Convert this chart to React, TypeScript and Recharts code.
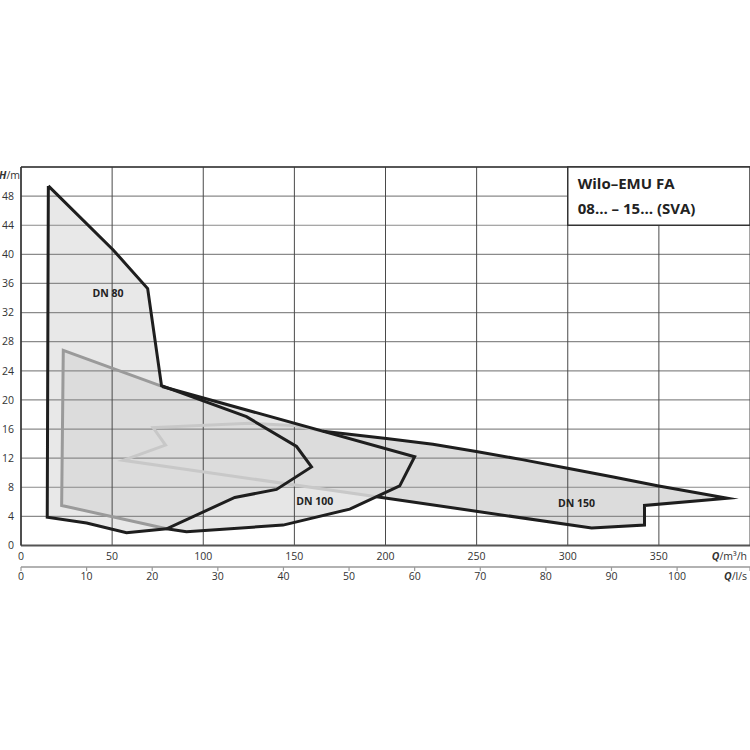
import React from 'react';
import { ComposedChart, Scatter, XAxis, YAxis, CartesianGrid, ReferenceArea, ReferenceLine } from 'recharts';

// Q in m³/h, H in m
const dn80: [number, number][] = [
  [15.0, 49.4], [50.6, 40.6], [69.5, 35.3], [77.1, 21.95], [123.7, 17.7], [151.2, 13.6], [159.4, 10.8],
  [140.2, 7.7], [117.3, 6.6], [79.9, 2.3], [57.9, 1.75], [36.0, 3.1], [14.4, 3.9],
];

const dn100: [number, number][] = [
  [23.2, 26.8], [77.4, 21.85], [216.0, 12.2], [207.8, 8.2], [180.4, 5.0],
  [143.8, 2.8], [90.8, 1.9], [79.9, 2.3], [22.3, 5.5],
];

const dn150: [number, number][] = [
  [165.7, 15.7], [200.5, 14.7], [226.0, 13.9], [249.8, 12.9], [275.0, 11.8], [299.9, 10.6],
  [325.0, 9.4], [349.2, 8.2], [387.6, 6.5],
  [342.1, 5.5], [342.1, 2.8], [313.1, 2.4], [195.1, 6.7], [56.1, 11.7], [79.3, 13.8],
  [72.5, 16.2], [125.5, 16.8], [149.3, 16.5],
];

const rangeLabels: [number, number, string][] = [
  [47.7, 34.7, 'DN 80'],
  [161.2, 6.1, 'DN 100'],
  [304.8, 5.9, 'DN 150'],
];

const qTicks = [0, 50, 100, 150, 200, 250, 300, 350, 400];
const lsTicks = [0, 10, 20, 30, 40, 50, 60, 70, 80, 90, 100, 400 / 3.6];
const hTicks = [0, 4, 8, 12, 16, 20, 24, 28, 32, 36, 40, 44, 48];

const toData = (pts: [number, number][]) => pts.map(([q, h]) => ({ q, h }));

// outline parts: black where the edge is visible, grey where it runs inside another range
const dn80Edge = [...dn80, dn80[0]];
const dn100Edge = dn100.slice(1, 8);
const dn100Hidden = [...dn100.slice(7), dn100[0], dn100[1]];
const dn150Edge = dn150.slice(0, 13);
const dn150Hidden = [...dn150.slice(12), dn150[0]];

const pathOf = (pts: { x: number; y: number }[], close: boolean) =>
  pts.map((p, i) => `${i ? 'L' : 'M'}${p.x},${p.y}`).join('') + (close ? 'Z' : '');

const fillShape = (color: string, opacity: number) => (p: any) => (
  <path d={pathOf(p.points, true)} fill={color} fillOpacity={opacity} stroke="none" />
);

const strokeShape = (color: string) => (p: any) => (
  <path d={pathOf(p.points, false)} fill="none" stroke={color} strokeWidth={3}
    strokeLinejoin="miter" strokeMiterlimit={10} />
);

const noDot = () => <g />;

const textStyle = { fill: '#333', fontSize: 10.5 };

const QTick = (p: any) => {
  const v = p.payload.value;
  if (v === 400) {
    return (
      <text x={747} y={p.y} dy="0.71em" textAnchor="end" {...textStyle}>
        <tspan fontWeight="bold" fontStyle="italic">Q</tspan>/m³/h
      </text>
    );
  }
  return <text x={p.x} y={p.y} dy="0.71em" textAnchor="middle" {...textStyle}>{v}</text>;
};

const LsTick = (p: any) => {
  const v = p.payload.value;
  if (v > 101) {
    return (
      <text x={747} y={p.y} dy="0.71em" textAnchor="end" {...textStyle}>
        <tspan fontWeight="bold" fontStyle="italic">Q</tspan>/l/s
      </text>
    );
  }
  return <text x={p.x} y={p.y} dy="0.71em" textAnchor="middle" {...textStyle}>{v}</text>;
};

const HLabel = (p: any) => {
  const vb = p.viewBox;
  return (
    <text x={vb.x + vb.width - 1} y={vb.y + 12} textAnchor="end" {...textStyle}>
      <tspan fontWeight="bold" fontStyle="italic">H</tspan>/m
    </text>
  );
};

const TitleText = (p: any) => {
  const vb = p.viewBox;
  return (
    <g fill="#222" fontSize={15} fontWeight="bold">
      <text x={vb.x + 10} y={vb.y + 21.5}>Wilo–EMU FA</text>
      <text x={vb.x + 10} y={vb.y + 46.5}>08… – 15… (SVA)</text>
    </g>
  );
};

const RangeLabel = (p: any) => (
  <text x={p.cx} y={p.cy} textAnchor="middle" dominantBaseline="central"
    fill="#222" fontSize={10.5} fontWeight="bold">{p.payload.text}</text>
);

export default function App() {
  return (
    <div style={{ position: 'absolute', left: 0, top: 0, width: 750, height: 750, background: '#fff', fontFamily: '"Open Sans", sans-serif' }}>
      <ComposedChart width={750} height={750} margin={{ top: 167, right: 0, bottom: 153, left: 0 }}>
        <XAxis xAxisId={0} dataKey="q" type="number" domain={[0, 400]} ticks={qTicks} allowDataOverflow
          height={21.5} axisLine={{ stroke: '#555', strokeWidth: 2 }} tickLine={false} tickSize={5} tickMargin={2}
          tick={QTick} interval={0} />
        <XAxis xAxisId="ls" dataKey="q" type="number" domain={[0, 400 / 3.6]} ticks={lsTicks} allowDataOverflow
          height={30} axisLine={{ stroke: '#999', strokeWidth: 1.5 }} tickLine={{ stroke: '#999', strokeWidth: 1.2 }}
          tickSize={4} tickMargin={2} tick={LsTick} interval={0} />
        <YAxis dataKey="h" type="number" domain={[0, 52]} ticks={hTicks} allowDataOverflow width={21}
          axisLine={{ stroke: '#333', strokeWidth: 1.5 }} tickLine={false} tickSize={5} tickMargin={2}
          tick={textStyle} interval={0} label={{ content: HLabel }} />

        <Scatter data={toData(dn80)} dataKey="h" shape={noDot} line={fillShape('#e8e8e8', 1)} isAnimationActive={false} zIndex={100} />
        <Scatter data={toData(dn100)} dataKey="h" shape={noDot} line={fillShape('#d3d3d3', 0.565)} isAnimationActive={false} zIndex={101} />
        <Scatter data={toData(dn150)} dataKey="h" shape={noDot} line={fillShape('#dcdcdc', 1)} isAnimationActive={false} zIndex={102} />

        <CartesianGrid vertical={false} stroke="#8a8a8a" strokeWidth={1.2} zIndex={110} />
        <CartesianGrid horizontal={false} stroke="#4a4a4a" strokeWidth={1} zIndex={110} />
        <ReferenceLine y={52} stroke="#333" strokeWidth={1.5} zIndex={120} />
        <ReferenceArea x1={300} x2={400} y1={44} y2={52} fill="#fff" fillOpacity={1} stroke="#333" strokeWidth={1.5}
          label={{ content: TitleText }} zIndex={120} />

        <Scatter data={toData(dn150Hidden)} dataKey="h" shape={noDot} line={strokeShape('#c8c8c8')} isAnimationActive={false} zIndex={130} />
        <Scatter data={toData(dn100Hidden)} dataKey="h" shape={noDot} line={strokeShape('#9a9a9a')} isAnimationActive={false} zIndex={131} />
        <Scatter data={toData(dn150Edge)} dataKey="h" shape={noDot} line={strokeShape('#1e1e1e')} isAnimationActive={false} zIndex={132} />
        <Scatter data={toData(dn100Edge)} dataKey="h" shape={noDot} line={strokeShape('#1e1e1e')} isAnimationActive={false} zIndex={133} />
        <Scatter data={toData(dn80Edge)} dataKey="h" shape={noDot} line={strokeShape('#1e1e1e')} isAnimationActive={false} zIndex={134} />

        <Scatter data={rangeLabels.map(([q, h, text]) => ({ q, h, text }))} dataKey="h" shape={RangeLabel}
          isAnimationActive={false} zIndex={140} />
      </ComposedChart>
    </div>
  );
}
